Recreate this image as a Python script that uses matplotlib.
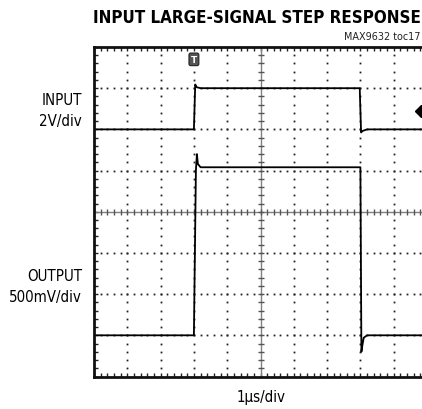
import numpy as np
import matplotlib
matplotlib.use("Agg")
import matplotlib.pyplot as plt

# scope screen: 10 x 8 divisions, 1us/div
n_xdiv = 10
n_ydiv = 8

# input trace (V), 2V/div, zero at 6 div
t_in = [0.0, 3.0, 3.04, 3.08, 3.2, 7.98, 8.02, 8.06, 8.2, 10.0]
v_in = [0.0, 0.0, 2.18, 2.05, 2.0, 2.0, -0.15, -0.08, 0.0, 0.0]
in_zero_div = 6.0
in_scale = 2.0

# output trace (V), 500mV/div, zero at 1 div
t_out = [0.0, 3.0, 3.06, 3.09, 3.12, 3.2, 3.4, 8.0, 8.03, 8.06, 8.1, 8.2, 10.0]
v_out = [0.0, 0.0, 2.0, 2.2, 2.08, 2.04, 2.04, 2.04, -0.2, -0.12, -0.03, 0.0, 0.0]
out_zero_div = 1.0
out_scale = 0.5

trigger_time = 3.0
trigger_level_div = 6.44

fig = plt.figure(figsize=(4.22, 4.10), dpi=100)
ax = fig.add_axes([94 / 422, 32.5 / 410, 333 / 422, 329.5 / 410])
ax.set_xlim(0, n_xdiv)
ax.set_ylim(0, n_ydiv)

# dotted graticule
for gx in range(1, n_xdiv):
    if gx == n_xdiv // 2:
        continue
    ys = np.arange(0.2, n_ydiv, 0.2)
    ax.plot(np.full_like(ys, gx), ys, ls="none", marker="s", ms=1.3, mec="none", color="#222222")
for gy in range(1, n_ydiv):
    if gy == n_ydiv // 2:
        continue
    xs = np.arange(0.2, n_xdiv, 0.2)
    ax.plot(xs, np.full_like(xs, gy), ls="none", marker="s", ms=1.3, mec="none", color="#222222")

# center cross with minor ticks
cx, cy = n_xdiv / 2, n_ydiv / 2
ax.axvline(cx, color="#808080", lw=1.0)
ax.axhline(cy, color="#808080", lw=1.0)
ys = np.arange(0.2, n_ydiv, 0.2)
ax.plot(np.full_like(ys, cx), ys, ls="none", marker="_", ms=5, mew=1.0, color="#555555")
xs = np.arange(0.2, n_xdiv, 0.2)
ax.plot(xs, np.full_like(xs, cy), ls="none", marker="|", ms=5, mew=1.0, color="#555555")

# traces
ax.plot(t_in, in_zero_div + np.array(v_in) / in_scale, color="black", lw=1.3)
ax.plot(t_out, out_zero_div + np.array(v_out) / out_scale, color="black", lw=1.3)

# trigger markers
ax.text(trigger_time, n_ydiv - 0.3, "T", ha="center", va="center", fontsize=6.5,
        color="white", fontweight="bold",
        bbox=dict(boxstyle="round,pad=0.2", fc="#555555", ec="#222222", lw=0.8))
ax.plot([9.82], [trigger_level_div], marker="D", ms=6, color="black", clip_on=False)

# frame
for sp in ax.spines.values():
    sp.set_linewidth(2.0)
    sp.set_color("#111111")
ax.set_xticks(np.arange(0, n_xdiv + 0.01, 0.2))
ax.set_yticks(np.arange(0, n_ydiv + 0.01, 0.2))
ax.tick_params(direction="in", length=3, width=1, top=True, right=True,
               labelbottom=False, labelleft=False, color="#222222")

font = dict(family="DejaVu Sans", stretch="condensed")
renderer = fig.canvas.get_renderer()


def fit(txt, width_px):
    # shrink/grow a text so its widest line is about width_px wide
    w = txt.get_window_extent(renderer).width
    txt.set_fontsize(txt.get_fontsize() * width_px / w)


title = fig.text(93 / 422, 1 - 18 / 410, "INPUT LARGE-SIGNAL STEP RESPONSE",
                 fontsize=15, fontweight="bold", ha="left", va="center", **font)
fit(title, 327)
toc = fig.text(420 / 422, 1 - 37 / 410, "MAX9632 toc17", fontsize=7.5,
               ha="right", va="center", color="#222222", **font)
fit(toc, 76)
lab_in = fig.text(82 / 422, 1 - 111 / 410, "INPUT\n2V/div", fontsize=12,
                  ha="right", va="center", linespacing=1.45, **font)
lab_out = fig.text(82 / 422, 1 - 287 / 410, "OUTPUT\n500mV/div", fontsize=12,
                   ha="right", va="center", linespacing=1.45, **font)
fit(lab_out, 73)
lab_in.set_fontsize(lab_out.get_fontsize())
xl = fig.text(261 / 422, 1 - 398 / 410, "1µs/div", fontsize=12,
              ha="center", va="center", **font)
xl.set_fontsize(lab_out.get_fontsize())

fig.savefig("out.png", dpi=100)
